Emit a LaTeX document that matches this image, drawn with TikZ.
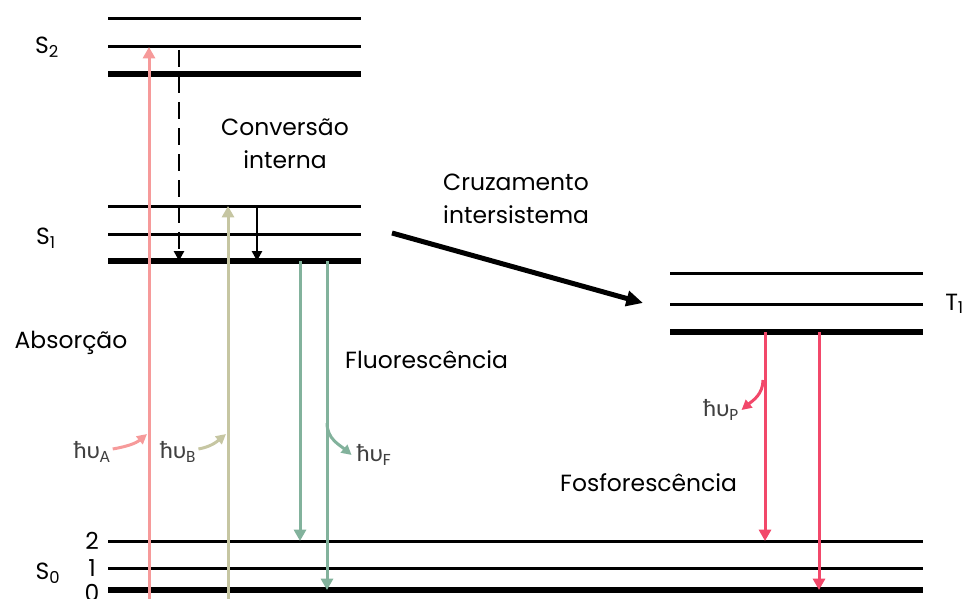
\documentclass[tikz,border=0pt]{standalone}
\usepackage{fontspec}
\setmainfont{Poppins}
\newfontfamily\hvfont{Carlito}
\usetikzlibrary{arrows.meta, positioning}

\definecolor{absA}{RGB}{246,154,154}
\definecolor{absB}{RGB}{198,198,162}
\definecolor{fluo}{RGB}{130,178,156}
\definecolor{fosf}{RGB}{242,72,106}
\definecolor{hvgray}{RGB}{64,64,64}

\tikzset{
  level/.style={line width=0.9mm}, % sub-niveis vibracionais
  base/.style={line width=1.8mm}, % nivel fundamental de cada estado
  trans/.style={-{Triangle[width=3.6mm,length=3.4mm]}, line width=0.9mm},
  relax/.style={-{Triangle[width=3mm,length=3mm]}, line width=0.8mm},
  photon/.style={-{Triangle[width=3mm,length=3mm]}, line width=0.9mm},
  rotulo/.style={font=\fontsize{20}{28}\selectfont, inner sep=0pt},
  hv/.style={font=\hvfont\fontsize{21}{24}\selectfont, text=hvgray, inner sep=0pt},
}

\begin{document}
\begin{tikzpicture}[x=0.3mm, y=-0.3mm]
		\useasboundingbox (0,0) rectangle (963,599);

		% niveis S2
		\draw[level] (108,19) -- (361,19);
		\draw[level] (108,47) coordinate (s2v) -- (361,47);
		\draw[base] (108,74) coordinate (s2) -- (361,74);
		% niveis S1
		\draw[level] (108,206) coordinate (s1v) -- (361,206);
		\draw[level] (108,234) -- (361,234);
		\draw[base] (108,261) coordinate (s1) -- (361,261);
		% niveis S0
		\draw[level] (108,541) coordinate (s0b) -- (923,541);
		\draw[level] (108,568) coordinate (s0a) -- (923,568);
		\draw[base] (108,590) coordinate (s0) -- (923,590);
		% niveis T1
		\draw[level] (670,273) -- (923,273);
		\draw[level] (670,304) coordinate (t1v) -- (923,304);
		\draw[base] (670,332) coordinate (t1) -- (923,332);

		% rotulos dos estados
		\node[rotulo] (S2) at (47,47) {S\textsubscript{2}};
		\node[rotulo] (S1) at (46,238) {S\textsubscript{1}};
		\node[rotulo] (S0) at (48,573) {S\textsubscript{0}};
		\node[rotulo, anchor=west] (T1) at (945,304) {T\textsubscript{1}};
		\node[rotulo] (n2) at (92,541) {2};
		\node[rotulo] (n1) at (92,568) {1};
		\node[rotulo] (n0) at (92,593) {0};

		% pontos das transicoes
		\coordinate (a0) at (149,599);
		\coordinate (a1) at (s2v -| a0);
		\coordinate (b0) at (228,599);
		\coordinate (b1) at (s1v -| b0);
		\coordinate (ic0) at (179,50);
		\coordinate (ic1) at (s1 -| ic0);
		\coordinate (ir0) at (257,206);
		\coordinate (ir1) at (s1 -| ir0);
		\coordinate (f0) at (300,261);
		\coordinate (f1) at (s0b -| f0);
		\coordinate (g0) at (327,261);
		\coordinate (g1) at (s0 -| g0);
		\coordinate (p0) at (765,332);
		\coordinate (p1) at (s0b -| p0);
		\coordinate (q0) at (819,332);
		\coordinate (q1) at (s0 -| q0);
		\coordinate (isc0) at (392,233);
		\coordinate (isc1) at (643,303);

		% Absorcao
		\draw[trans, draw=absA, fill=absA] (a0) -- (a1);
		\draw[trans, draw=absB, fill=absB] (b0) -- (b1);
		% Conversao interna
		\draw[relax, dash pattern=on 5mm off 2.8mm] (ic0) -- (ic1);
		\draw[relax] (ir0) -- (ir1);
		% Fluorescencia
		\draw[trans, draw=fluo, fill=fluo] (f0) -- (f1);
		\draw[trans, draw=fluo, fill=fluo] (g0) -- (g1);
		% Fosforescencia
		\draw[trans, draw=fosf, fill=fosf] (p0) -- (p1);
		\draw[trans, draw=fosf, fill=fosf] (q0) -- (q1);
		% Cruzamento intersistema
		\draw[-{Triangle[width=4.5mm,length=5mm]}, line width=1.5mm] (isc0) -- (isc1);

		% fotons
		\node[hv] (hvA) at (92,452) {ħυ\textsubscript{A}};
		\node[hv] (hvB) at (178,452) {ħυ\textsubscript{B}};
		\node[hv] (hvF) at (374,455) {ħυ\textsubscript{F}};
		\node[hv] (hvP) at (721,410) {ħυ\textsubscript{P}};
		\draw[photon, absA] (hvA.east) ++(2,-3) coordinate (ha) to[out=10, in=220] (147,434);
		\draw[photon, absB] (hvB.east) ++(2,-3) coordinate (hb) to[out=10, in=220] (226,434);
		\draw[photon, fluo] (327,423) coordinate (hf) to[out=-90, in=140] ([xshift=-4]hvF.west);
		\draw[photon, fosf] (763,380) coordinate (hp) to[out=-90, in=40] ([xshift=2]hvP.east);

		% legendas
		\node[rotulo] (abs) at (71,343) {Absorção};
		\node[rotulo, align=center] (ci) at (285,144) {Conversão\\interna};
		\node[rotulo, align=left, anchor=west] (cis) at (443,199) {Cruzamento\\intersistema};
		\node[rotulo, anchor=west] (fluor) at (345,360) {Fluorescência};
		\node[rotulo, anchor=west] (fosfor) at (560,483) {Fosforescência};
\end{tikzpicture}
\end{document}
